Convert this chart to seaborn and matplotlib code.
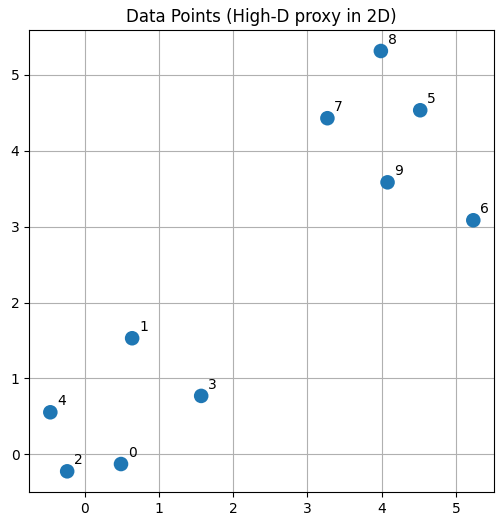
import matplotlib
matplotlib.use("Agg")
import matplotlib.pyplot as plt
import seaborn as sns
import pandas as pd

# point coordinates
x_vals = [0.49, 0.64, -0.235, 1.57, -0.462, 4.52, 5.235, 3.27, 3.99, 4.08]
y_vals = [-0.128, 1.53, -0.224, 0.77, 0.554, 4.535, 3.085, 4.43, 5.316, 3.585]
labels = [str(i) for i in range(10)]

df = pd.DataFrame({"x": x_vals, "y": y_vals, "label": labels})

fig, ax = plt.subplots(figsize=(5.03, 5.26), dpi=100)
fig.subplots_adjust(left=0.058, right=0.983, bottom=0.064, top=0.943)

sns.scatterplot(data=df, x="x", y="y", s=110, color="#1f77b4", edgecolor="none", ax=ax, zorder=3)
for _, row in df.iterrows():
    ax.annotate(row["label"], (row["x"], row["y"]), xytext=(5, 5), textcoords="offset points")

ax.set_title("Data Points (High-D proxy in 2D)")
ax.set_xlabel("")
ax.set_ylabel("")
ax.grid(True)
ax.set_axisbelow(True)

plt.savefig("out.png")
